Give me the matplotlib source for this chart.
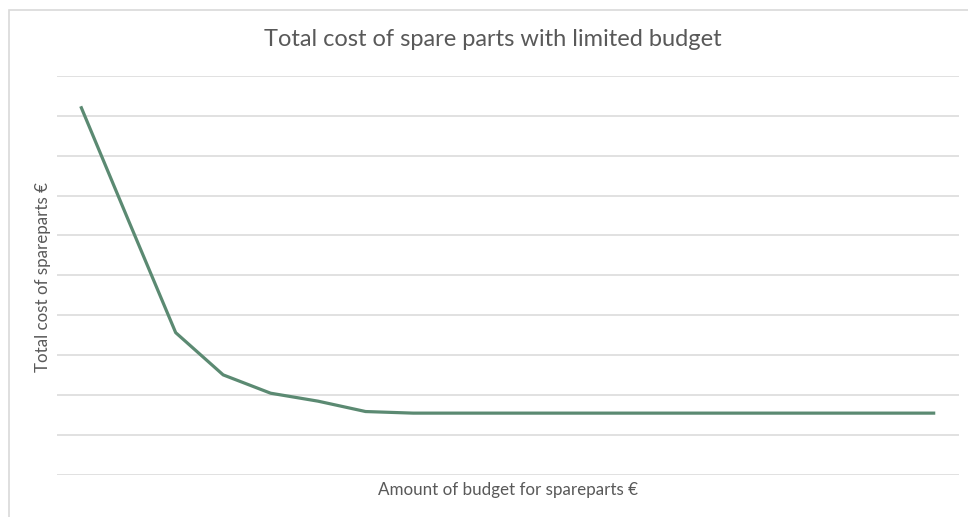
import matplotlib.pyplot as plt
from matplotlib.patches import Rectangle

# Budget steps (category axis, labels hidden) and resulting total cost
budget_steps = list(range(1, 20))
total_cost = [9.24, 6.39, 3.56, 2.50, 2.04, 1.84, 1.58, 1.54, 1.54, 1.54,
              1.54, 1.54, 1.54, 1.54, 1.54, 1.54, 1.54, 1.54, 1.54]

title = "Total cost of spare parts with limited budget"
x_label = "Amount of budget for spareparts €"
y_label = "Total cost of spareparts €"

W, H, DPI = 968, 517, 100
fig = plt.figure(figsize=(W / DPI, H / DPI), dpi=DPI)
fig.patch.set_facecolor("white")

# chart frame
fig.patches.append(Rectangle((9 / W, -0.1), 1.2, (H - 10) / H + 0.1,
                             transform=fig.transFigure, fill=False,
                             edgecolor="#d9d9d9", linewidth=1.2))

left, right, top, bottom = 57, 959, 76, 474.5
ax = fig.add_axes([left / W, 1 - bottom / H, (right - left) / W, (bottom - top) / H])

ax.plot(range(len(budget_steps)), total_cost, color="#5b8a72", linewidth=2.3,
        solid_capstyle="butt", solid_joinstyle="round", zorder=3)

ax.set_xlim(-0.5, len(budget_steps) - 0.5)
ax.set_ylim(0, 10)
ax.set_yticks(range(0, 11))
ax.grid(axis="y", color="#d9d9d9", linewidth=1.1)
ax.set_axisbelow(True)
ax.tick_params(left=False, bottom=False, labelleft=False, labelbottom=False)
for s in ax.spines.values():
    s.set_visible(False)

font = "Lato"
renderer = fig.canvas.get_renderer()


def fitted_text(x, y, s, length_px, rotation=0):
    """Place text and scale its font so the run spans length_px pixels."""
    t = fig.text(x / W, 1 - y / H, s, ha="center", va="center", rotation=rotation,
                 fontsize=10, color="#595959", family=font)
    bb = t.get_window_extent(renderer)
    span = bb.height if rotation else bb.width
    t.set_fontsize(10 * length_px / span)
    return t


fitted_text(493, 40, title, 460)
fitted_text(508, 490, x_label, 260)
fitted_text(43, 277, y_label, 189, rotation=90)

fig.savefig("out.png", dpi=DPI, facecolor="white")
